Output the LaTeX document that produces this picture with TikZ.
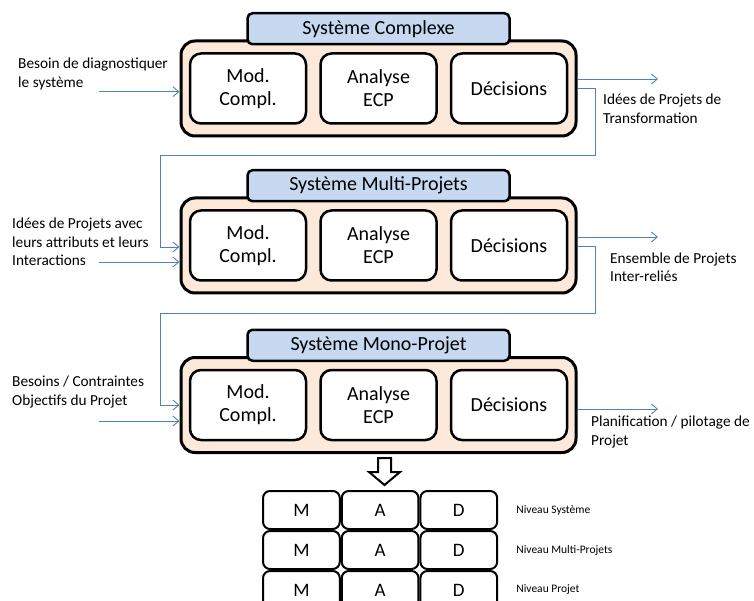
\documentclass[tikz,border=0pt]{standalone}
\usepackage{fontspec}
\setmainfont{Carlito}
\usetikzlibrary{arrows.meta, positioning}
\definecolor{pkpeach}{HTML}{FDE9D9}
\definecolor{pkblue}{HTML}{C6D9F1}
\definecolor{pkline}{HTML}{4F81BD}

\begin{document}
\begin{tikzpicture}[
  x=1pt, y=-1pt,
  every node/.style={inner sep=0pt},
  sysbox/.style={rectangle, rounded corners=14pt, draw=black, fill=pkpeach, line width=3pt, minimum width=395pt, minimum height=95pt},
  tabbox/.style={rectangle, rounded corners=5pt, draw=black, fill=pkblue, line width=2.5pt, minimum width=262pt, minimum height=31pt, font=\fontsize{20}{24}\selectfont},
  modbox/.style={rectangle, rounded corners=11pt, draw=black, fill=white, line width=2.5pt, minimum width=116pt, minimum height=70pt, align=center, font=\fontsize{20}{23}\selectfont},
  side/.style={align=left, anchor=west, font=\fontsize{15.3}{18.5}\selectfont},
  cell/.style={rectangle, rounded corners=7pt, draw=black, fill=white, line width=2pt, minimum width=76.7pt, minimum height=38pt, font=\fontsize{19}{22}\selectfont},
  level/.style={anchor=west, font=\fontsize{11.5}{14}\selectfont},
  arrow/.style={-{Straight Barb[length=6pt, width=10pt]}, pkline, line width=0.9pt},
  bigarrow/.style={draw=black, fill=white, line width=2pt, line join=miter},
]
\useasboundingbox (0,0) rectangle (754,601);

% Systeme Complexe
\node[sysbox] (sys1) at (378.5,88.5) {};
\node[tabbox, anchor=south] (tab1) at ([yshift=-6pt]sys1.north) {Système Complexe};
\node[modbox] (ana1) at (sys1) {Analyse\\ECP};
\node[modbox, left=12pt of ana1] (mod1) {Mod.\\Compl.};
\node[modbox, right=12pt of ana1] (dec1) {Décisions};

% Systeme Multi-Projets
\node[sysbox] (sys2) at (378.5,245.5) {};
\node[tabbox, anchor=south] (tab2) at ([yshift=-6pt]sys2.north) {Système Multi-Projets};
\node[modbox] (ana2) at (sys2) {Analyse\\ECP};
\node[modbox, left=12pt of ana2] (mod2) {Mod.\\Compl.};
\node[modbox, right=12pt of ana2] (dec2) {Décisions};

% Systeme Mono-Projet
\node[sysbox] (sys3) at (378.5,405) {};
\node[tabbox, anchor=south] (tab3) at ([yshift=-6pt]sys3.north) {Système Mono-Projet};
\node[modbox] (ana3) at (sys3) {Analyse\\ECP};
\node[modbox, left=12pt of ana3] (mod3) {Mod.\\Compl.};
\node[modbox, right=12pt of ana3] (dec3) {Décisions};

% entrees / sorties
\node[side] (need1) at (18,74) {Besoin de diagnostiquer\\le système};
\node[side] (need2) at (12,242) {Idées de Projets avec\\leurs attributs et leurs\\Interactions};
\node[side] (need3) at (12,392) {Besoins / Contraintes\\Objectifs du Projet};
\node[side] (res1) at (603,108.5) {Idées de Projets de\\Transformation};
\node[side] (res2) at (610,267) {Ensemble de Projets\\Inter-reliés};
\node[side] (res3) at (591,432) {Planification / pilotage de\\Projet};

\coordinate (in1) at (99,91.7);
\coordinate (in2) at (99,262);
\coordinate (in3) at (99,421);
\draw[arrow] (in1) -- (in1 -| sys1.west);
\draw[arrow] (in2) -- (in2 -| sys2.west);
\draw[arrow] (in3) -- (in3 -| sys3.west);

\coordinate (out1) at (658,79);
\coordinate (out2) at (658,237);
\coordinate (out3) at (658,409);
\draw[arrow] (out1 -| sys1.east) -- (out1);
\draw[arrow] (out2 -| sys2.east) -- (out2);
\draw[arrow] (out3 -| sys3.east) -- (out3);

% retours vers le niveau suivant
\coordinate (fb1) at (595.7,88);
\coordinate (turn1) at (160.5,155);
\coordinate (ret1) at (160.5,247);
\draw[arrow] (fb1 -| sys1.east) -- (fb1) |- (turn1) -- (ret1) -- (ret1 -| sys2.west);
\coordinate (fb2) at (595.7,246);
\coordinate (turn2) at (160.5,313.3);
\coordinate (ret2) at (160.5,405);
\draw[arrow] (fb2 -| sys2.east) -- (fb2) |- (turn2) -- (ret2) -- (ret2 -| sys3.west);

% fleche vers le tableau
\coordinate (top) at (384.5,458);
\draw[bigarrow] (top) ++(-6.5,0) -- ++(13,0) -- ++(0,14) -- ++(9,0) -- ++(-15.5,13) -- ++(-15.5,-13) -- ++(9,0) -- cycle;

% tableau M / A / D
\begin{scope}
\clip (0,0) rectangle (754,601);
\node[cell] (m1) at (301.4,510) {M};
\node[cell, right=0pt of m1] (a1) {A};
\node[cell, right=0pt of a1] (d1) {D};
\node[cell, below=0pt of m1] (m2) {M};
\node[cell, right=0pt of m2] (a2) {A};
\node[cell, right=0pt of a2] (d2) {D};
\node[cell, below=0pt of m2] (m3) {M};
\node[cell, right=0pt of m3] (a3) {A};
\node[cell, right=0pt of a3] (d3) {D};
\end{scope}
\node[level, right=18pt of d1] (lv1) {Niveau Système};
\node[level, right=18pt of d2] (lv2) {Niveau Multi-Projets};
\node[level, right=18pt of d3] (lv3) {Niveau Projet};
\end{tikzpicture}
\end{document}
